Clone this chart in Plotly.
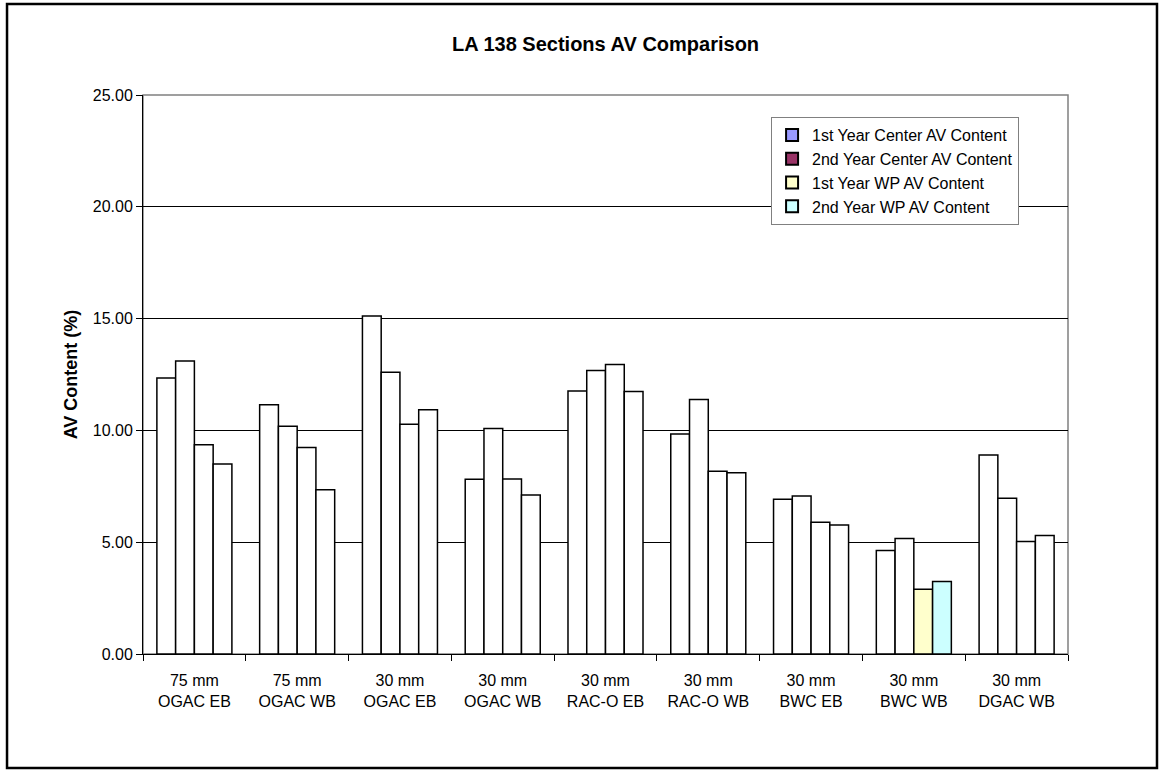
import plotly.graph_objects as go

categories = ["75 mm<br>OGAC EB", "75 mm<br>OGAC WB", "30 mm<br>OGAC EB", "30 mm<br>OGAC WB",
              "30 mm<br>RAC-O EB", "30 mm<br>RAC-O WB", "30 mm<br>BWC EB", "30 mm<br>BWC WB",
              "30 mm<br>DGAC WB"]
series_names = ["1st Year Center AV Content", "2nd Year Center AV Content",
                "1st Year WP AV Content", "2nd Year WP AV Content"]
center_y1 = [12.34, 11.15, 15.12, 7.81, 11.76, 9.84, 6.92, 4.63, 8.90]
center_y2 = [13.10, 10.19, 12.60, 10.09, 12.68, 11.38, 7.07, 5.16, 6.96]
wp_y1 = [9.36, 9.24, 10.27, 7.83, 12.95, 8.17, 5.89, 2.90, 5.03]
wp_y2 = [8.50, 7.35, 10.92, 7.11, 11.74, 8.11, 5.77, 3.24, 5.30]
series_values = [center_y1, center_y2, wp_y1, wp_y2]
legend_colors = ["#9999FF", "#993366", "#FFFFCC", "#CCFFFF"]
colored_category = "30 mm<br>BWC WB"
colored_series = [2, 3]

fig = go.Figure()
for i, (name, vals) in enumerate(zip(series_names, series_values)):
    colors = [legend_colors[i] if (c == colored_category and i in colored_series) else "white"
              for c in categories]
    fig.add_trace(go.Bar(x=categories, y=vals, name=name, showlegend=False,
                         marker=dict(color=colors, line=dict(color="black", width=1.5))))
for name, col in zip(series_names, legend_colors):
    fig.add_trace(go.Scatter(x=[None], y=[None], mode="markers", name=name,
                             marker=dict(symbol="square", size=10, color=col,
                                         line=dict(color="black", width=1))))

fig.update_layout(
    width=1160, height=771,
    paper_bgcolor="white", plot_bgcolor="white",
    margin=dict(l=143, r=92, t=95, b=117),
    barmode="group", bargap=0.27, bargroupgap=0,
    font=dict(family="Arial, Liberation Sans, sans-serif", size=16, color="black"),
    title=dict(text="<b>LA 138 Sections AV Comparison</b>", x=0.522, xanchor="center",
               y=0.943, yanchor="middle", font=dict(size=20)),
    legend=dict(x=0.679, y=0.9606, xanchor="left", yanchor="top",
                bordercolor="#808080", borderwidth=1, bgcolor="white",
                font=dict(size=16), itemsizing="constant", itemwidth=30,
                tracegroupgap=0),
    xaxis=dict(type="category", tickson="boundaries", ticks="outside", ticklen=6,
               tickcolor="black", showline=True, linecolor="black", linewidth=1,
               showgrid=False, tickfont=dict(size=16), ticklabelstandoff=12),
    yaxis=dict(range=[0, 25], dtick=5, tickformat=".2f", ticks="outside", ticklen=6,
               tickcolor="black", showline=True, linecolor="black", linewidth=1,
               showgrid=True, gridcolor="#000000", gridwidth=1, zeroline=False,
               tickfont=dict(size=16),
               title=dict(text="<b>AV Content (%)</b>", font=dict(size=18), standoff=10)),
    shapes=[
        dict(type="rect", xref="paper", yref="paper", x0=0, x1=1, y0=0, y1=1,
             line=dict(color="#808080", width=1.5), layer="below"),
        dict(type="rect", xref="paper", yref="paper", x0=-0.1470, x1=1.0962,
             y0=-0.2039, y1=1.1628, line=dict(color="black", width=2.5)),
    ],
)

fig.write_html("out.html", config={"displayModeBar": False},
               post_script="document.body.style.margin='0';document.body.style.overflow='hidden';")
